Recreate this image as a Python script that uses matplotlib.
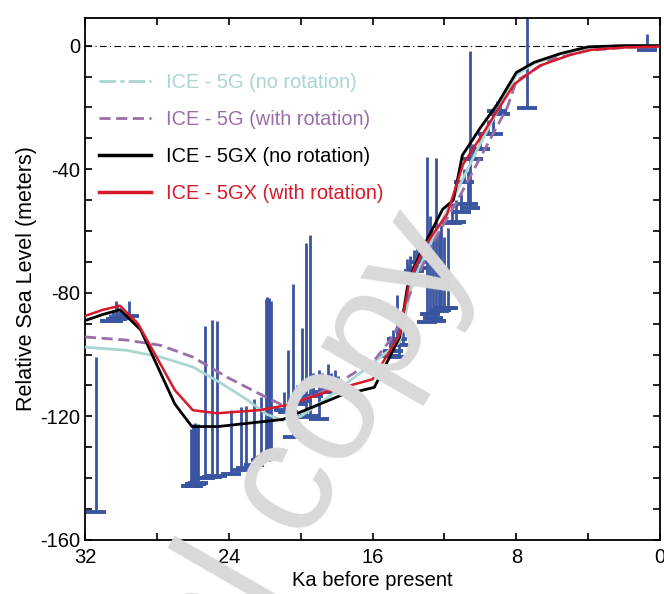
import matplotlib
matplotlib.use("Agg")
import matplotlib.pyplot as plt
from matplotlib.ticker import MultipleLocator
from matplotlib.lines import Line2D

plt.rcParams['font.family'] = ['Liberation Sans', 'DejaVu Sans']
plt.rcParams['axes.unicode_minus'] = False

# model curves (ka before present, metres)
gx_age = [32, 31.0, 30.05, 28.9, 27.0, 26.05, 24.6, 21.0, 17.8, 15.9, 14.5, 14.0, 13.2,
          12.1, 11.5, 11.0, 10.0, 9.0, 8.0, 7.0, 5.5, 4.0, 2.0, 0]
gx_norot = [-89, -87, -85.5, -92, -116, -123.3, -123.3, -121, -113.3, -110.6, -94.5, -76,
            -65.5, -53, -50, -35.5, -26.6, -18.5, -8.7, -5.4, -2.5, -0.4, 0, 0]

gxr_age = [32, 31.0, 30.05, 29.05, 27.0, 26.0, 24.65, 22.3, 20.8, 18.5, 16.0, 14.5, 13.9,
           13.0, 11.85, 10.96, 10.0, 9.0, 8.1, 6.7, 5.0, 3.9, 2.0, 0]
gx_rot = [-87.5, -85.5, -84.2, -90, -111.5, -118, -119, -118, -116.4, -112, -108, -93.7, -75,
          -64, -54.6, -38.4, -29.8, -20.5, -12.4, -6.5, -3.0, -1.4, -0.6, -0.3]

g_age = [32, 29.7, 27.8, 26.0, 24.5, 23.0, 21.9, 21.0, 20.0, 18.5, 16.4, 14.5, 13.8,
         12.6, 11.3, 10.2, 9.0, 8.0, 7.0, 5.5, 4.0, 2.0, 0]
g_norot = [-97.6, -98.6, -100.8, -104, -109, -114.5, -119.3, -121.3, -120, -114, -104.7, -96,
           -77, -62, -47, -34, -20.5, -9.5, -5.8, -2.6, -0.6, 0, 0]

gr_age = [32, 29.7, 27.8, 26.0, 24.1, 22.26, 21.0, 20.4, 18.3, 15.9, 14.8, 13.8, 12.6,
          11.3, 10.2, 8.5, 8.0, 6.0, 4.0, 2.0, 0]
g_rot = [-94.3, -95.3, -97, -100.8, -107.3, -112.8, -116.4, -116, -110.6, -101.9, -93.7, -78.6,
         -63.4, -50.4, -38.4, -20, -11.4, -4.3, -1.6, -0.6, -0.3]

# sea-level indicators: age, lower limit, upper limit
rsl_age = [31.4, 30.6, 30.45, 30.3, 30.2, 30.05, 29.55,
           26.1, 26.0, 25.9, 25.8, 25.7, 25.3, 24.95, 24.65, 23.9, 23.3, 23.05, 22.6, 22.2,
           21.95, 21.85, 21.75, 21.65,
           20.9, 20.7, 20.4, 20.2, 19.9, 19.7, 19.5, 19.3, 19.0, 18.8, 18.5, 18.3, 18.1, 17.9,
           15.0, 14.85, 14.65, 14.5, 14.3, 14.1, 13.9, 13.7, 13.5, 13.3,
           12.95, 12.8, 12.65, 12.45, 12.3, 12.2, 12.0, 11.8,
           11.6, 11.35, 11.1, 10.9, 10.7, 10.55, 10.4, 10.0, 9.6, 9.3, 9.05, 8.9, 7.4, 0.72]
rsl_low = [-150.9, -89, -89, -88.5, -88.5, -88, -87.5,
           -142.5, -142.5, -142, -142, -141.5, -140, -139.5, -139.2, -138.5, -137.2, -136.8,
           -135.6, -134,
           -133.5, -133.3, -133, -132.5,
           -118, -118.5, -126.8, -116, -115, -120.3, -120, -113.5, -121, -112, -112, -111, -111, -110,
           -100.5, -99, -95, -100.8, -97, -76, -75, -73, -72, -70,
           -89.4, -87, -88, -89, -86, -85.5, -85, -85,
           -57.5, -57, -54, -44, -51.4, -52.4, -36.8, -33.5, -28.6, -28.6, -21.1, -22, -20.2, -1.3]
rsl_high = [-100.8, -87, -85.5, -82.5, -83.5, -86, -82.5,
            -124, -122.5, -122, -123, -122.5, -90.7, -88.8, -89.1, -118, -117, -116.5,
            -114.5, -113.8,
            -82, -81.5, -81.8, -82.5,
            -112, -98.5, -77, -110, -91.5, -64, -61.2, -106, -105, -106, -103, -106, -105, -107,
            -94, -92, -80.7, -93, -90, -69, -68, -66, -65, -62,
            -36, -55, -60, -36.5, -60, -58, -62, -59,
            -51, -50, -48, -40, -40.7, -1.6, -32, -28, -24, -22, -18, -19, 12, 3.9]

fig = plt.figure(figsize=(6.64, 5.94), dpi=100)
ax = fig.add_axes([0.128, 0.091, 0.866, 0.879])

# watermark
fig.text(0.715, 0.578, "Author's personal copy", fontsize=116, color='#d9d9d9',
         rotation=60, rotation_mode='anchor', ha='right', va='baseline', zorder=0)
ax.set_facecolor('none')

blue = '#3a55a0'
ax.vlines(rsl_age, rsl_low, rsl_high, color=blue, lw=2.0, zorder=2)
ax.plot(rsl_age, rsl_low, ls='none', marker='_', ms=15, mew=2.8, color=blue, zorder=2)

ax.axhline(0, color='black', lw=0.8, ls=(0, (6, 3, 1, 3)), zorder=1)

ax.plot(g_age, g_norot, color='#a9d6d1', lw=2.0, zorder=3)
ax.plot(gr_age, g_rot, color='#9a6ea9', lw=2.0, ls=(0, (4, 2)), zorder=3)
ax.plot(gx_age, gx_norot, color='black', lw=2.0, zorder=4)
ax.plot(gxr_age, gx_rot, color='#d7192a', lw=1.8, zorder=5)

ax.set_xlim(32, 0)
ax.set_ylim(-160, 9)
ax.xaxis.set_major_locator(MultipleLocator(8))
ax.xaxis.set_minor_locator(MultipleLocator(4))
ax.yaxis.set_major_locator(MultipleLocator(40))
ax.yaxis.set_minor_locator(MultipleLocator(10))
ax.tick_params(which='both', direction='in', top=True, right=True, length=5, width=1.2,
               labelsize=14.5)
ax.tick_params(axis='x', pad=6)
for s in ax.spines.values():
    s.set_linewidth(1.3)

ax.set_xlabel('Ka before present', fontsize=14.5, labelpad=3)
ax.set_ylabel('Relative Sea Level (meters)', fontsize=15.5, labelpad=2)

handles = [Line2D([], [], color='#a9d6d1', lw=2, ls=(0, (6, 1.5, 1.5, 1.5))),
           Line2D([], [], color='#9a6ea9', lw=2, ls=(0, (4, 2))),
           Line2D([], [], color='black', lw=2.5),
           Line2D([], [], color='#d7192a', lw=2.5)]
labels = ['ICE - 5G (no rotation)', 'ICE - 5G (with rotation)',
          'ICE - 5GX (no rotation)', 'ICE - 5GX (with rotation)']
leg = ax.legend(handles, labels, loc='upper left', bbox_to_anchor=(0.024, 0.895),
                frameon=False, fontsize=14.4, handlelength=2.6, handletextpad=0.75,
                labelspacing=0.9, borderpad=0, borderaxespad=0,
                labelcolor=['#a9d6d1', '#9a6ea9', 'black', '#d7192a'])

fig.savefig('out.png', dpi=100)
